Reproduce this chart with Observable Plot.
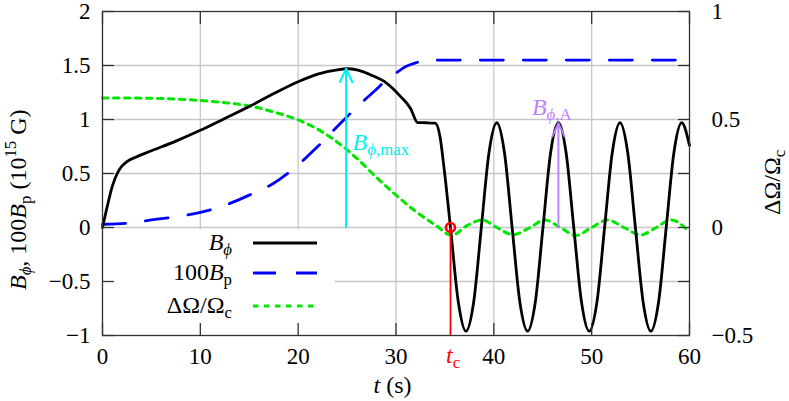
<!DOCTYPE html>
<html><head><meta charset="utf-8">
<script src="https://cdn.jsdelivr.net/npm/d3@7"></script>
<script src="https://cdn.jsdelivr.net/npm/@observablehq/plot@0.6"></script>
<style>
body{margin:0;background:#fff;}
#chart{width:789px;height:401px;}
#chart svg, #chart svg text, #chart svg tspan{font-family:"Liberation Serif", serif !important;}
</style></head><body><div id="chart"></div>
<script>
// ---------- data ----------
const phiT = [0, 0.5, 1, 1.5, 2, 2.5, 3.5, 5, 7.5, 10, 12.5, 15, 17.5, 20, 22, 24, 25, 26, 27.5, 29, 30.5, 31.5, 32.2, 33, 34.0,
  34.5, 34.9, 35.57, 36.37, 37.15, 37.94, 38.72, 39.5, 40.3, 41.09, 41.87, 42.66, 43.45, 44.24, 45.02, 45.8, 46.6,
  47.39, 48.17, 48.96, 49.75, 50.54, 51.32, 52.1, 52.9, 53.69, 54.47, 55.26, 56.05, 56.84, 57.62, 58.4, 59.2, 60];
const phiV = [0, 0.2, 0.38, 0.5, 0.57, 0.61, 0.655, 0.71, 0.80, 0.90, 1.01, 1.12, 1.24, 1.35, 1.42, 1.46, 1.47, 1.46, 1.41, 1.34, 1.21, 1.1, 0.972, 0.97, 0.966,
  0.84, 0.56, 0, -0.69, -0.96, -0.69, 0, 0.69, 0.97, 0.69, 0, -0.69, -0.96, -0.69, 0, 0.69, 0.97,
  0.69, 0, -0.69, -0.96, -0.69, 0, 0.69, 0.97, 0.69, 0, -0.69, -0.96, -0.69, 0, 0.69, 0.97, 0.76];

const bpT = [0, 2.5, 5, 7.5, 10, 12.5, 15, 17.5, 20, 22, 24, 26, 28, 29, 30, 31, 32, 33, 35, 40, 50, 60];
const bpV = [0.03, 0.04, 0.07, 0.10, 0.14, 0.205, 0.30, 0.41, 0.58, 0.75, 0.935, 1.115, 1.28, 1.365, 1.43, 1.49, 1.525, 1.545, 1.55, 1.55, 1.55, 1.55];

const omT = [0, 5, 10, 12.5, 15, 17.5, 20, 22, 24, 26, 28, 30, 32, 34, 35.7, 37.3, 38.8, 40.3, 42, 43.7, 45.2, 46.8, 48.4, 50, 51.6, 53.3, 55, 56.6, 58.1, 60];
const omV = [0.600, 0.598, 0.588, 0.578, 0.563, 0.535, 0.498, 0.455, 0.395, 0.32, 0.232, 0.15, 0.075, 0.012, -0.036, 0.01, 0.035, 0.0, -0.033, 0.0, 0.035, 0.0, -0.037, 0.0, 0.035, 0.0, -0.034, 0.0, 0.035, -0.022];

const xTicks = [0, 10, 20, 30, 40, 50, 60];
const xTickLabels = ["0", "10", "20", "30", "40", "50", "60"];
const yTicks = [-1, -0.5, 0, 0.5, 1, 1.5, 2];
const yTickLabels = ["\u22121", "\u22120.5", "0", "0.5", "1", "1.5", "2"];
const y2Ticks = [-0.5, 0, 0.5, 1];
const y2TickLabels = ["\u22120.5", "0", "0.5", "1"];

const tC = 35.57;              // critical time
const tMax = 24.9, bMax = 1.47; // B_phi,max
const tA = 46.6, bA = 0.965;    // B_phi,A

// ---------- layout ----------
const W = 789, H = 401;
const FONT = '"Liberation Serif", serif';
const FS = 23;   // tick labels
const LS = 24;   // titles, key, annotations
const yDom = [-1, 2], y2Dom = [-0.5, 1];
const toLeft = r => yDom[0] + (r - y2Dom[0]) * (yDom[1] - yDom[0]) / (y2Dom[1] - y2Dom[0]);

const phi = phiT.map((t, i) => ({t, v: phiV[i]}));
const bp = bpT.map((t, i) => ({t, v: bpV[i]}));
const om = omT.map((t, i) => ({t, r: omV[i]}));
const xLab = new Map(xTicks.map((d, i) => [d, xTickLabels[i]]));
const yLab = new Map(yTicks.map((d, i) => [d, yTickLabels[i]]));
const y2Lab = new Map(y2Ticks.map((d, i) => [toLeft(d), y2TickLabels[i]]));

const grid = {stroke: "#c8c8c8", strokeOpacity: 1, strokeWidth: 1.3};
const tick = {stroke: "#333", strokeWidth: 1.3, fill: "none", label: null, tickSize: 12};

const plot = Plot.plot({
  width: W, height: H,
  marginTop: 11, marginRight: 100, marginBottom: 66, marginLeft: 102,
  x: {domain: [0, 60]},
  y: {domain: yDom},
  style: {fontFamily: FONT, fontSize: FS + "px", color: "#000", background: "#fff", overflow: "visible"},
  marks: [
    Plot.gridX(xTicks.slice(1, -1), grid),
    Plot.gridY(yTicks.slice(1, -1), grid),
    // opaque key box
    Plot.frame({fill: "white", stroke: "none", insetTop: 218, insetRight: 355, insetLeft: 1, insetBottom: 1}),
    Plot.line(bp, {x: "t", y: "v", stroke: "#0000ff", strokeWidth: 2.8, strokeDasharray: "23,20", curve: "monotone-x"}),
    Plot.line(om, {x: "t", y: d => toLeft(d.r), stroke: "#00e600", strokeWidth: 3, strokeDasharray: "5.5,5.5", curve: "monotone-x"}),
    Plot.line(phi, {x: "t", y: "v", stroke: "black", strokeWidth: 2.8, curve: "monotone-x"}),
    Plot.arrow([{t: tMax, v0: 0, v1: bMax}], {x1: "t", x2: "t", y1: "v0", y2: "v1", stroke: "#00f0f0", strokeWidth: 2, headLength: 11, headAngle: 50}),
    Plot.arrow([{t: tA, v0: 0, v1: bA}], {x1: "t", x2: "t", y1: "v0", y2: "v1", stroke: "#c080ff", strokeWidth: 2, headLength: 11, headAngle: 50}),
    Plot.ruleX([tC], {y1: yDom[0], y2: 0, stroke: "red", strokeWidth: 1.8}),
    Plot.dot([{t: tC, v: 0}], {x: "t", y: "v", r: 4.5, stroke: "red", strokeWidth: 2.6, fill: "none"}),
    // tick marks (inward, mirrored)
    Plot.axisX(xTicks, {anchor: "bottom", dy: -12, ...tick}),
    Plot.axisX(xTicks, {anchor: "top", dy: 12, ...tick}),
    Plot.axisY(yTicks, {anchor: "left", dx: 12, ...tick}),
    Plot.axisY(yTicks, {anchor: "right", dx: -12, ...tick}),
    // tick labels
    Plot.axisX(xTicks, {anchor: "bottom", tickSize: 0, tickPadding: 12, tickFormat: d => xLab.get(d), label: null, fontSize: FS}),
    Plot.axisY(yTicks, {anchor: "left", tickSize: 0, tickPadding: 12, tickFormat: d => yLab.get(d), label: null, fontSize: FS}),
    Plot.axisY(y2Ticks.map(toLeft), {anchor: "right", tickSize: 0, tickPadding: 22, tickFormat: d => y2Lab.get(d), label: null, fontSize: FS}),
    Plot.frame({stroke: "#333", strokeWidth: 1.3})
  ]
});
document.getElementById("chart").append(plot);

// ---------- math-style labels ----------
const xs = plot.scale("x"), ys = plot.scale("y");
const X = v => xs.apply(v), Y = v => ys.apply(v);
const svg = d3.select(plot);
const layer = svg.append("g").attr("font-family", FONT).attr("font-size", LS).attr("text-anchor", "start");

function rich(parts, attrs, fs = LS) {
  const t = layer.append("text");
  Object.entries(attrs).forEach(([k, v]) => t.attr(k, v));
  let cur = 0;
  parts.forEach(p => {
    const s = t.append("tspan").text(p.t);
    if (p.i) s.attr("font-style", "italic");
    s.attr("font-size", (p.sub || p.sup) ? 0.7 * fs : fs);
    const target = p.sub ? 0.2 * fs : p.sup ? -0.4 * fs : 0;
    if (target !== cur) { s.attr("dy", target - cur); cur = target; }
  });
  return t;
}

const fLeft = X(0), fRight = X(60), fTop = Y(yDom[1]), fBottom = Y(yDom[0]);

// axis titles
rich([{t: "t", i: 1}, {t: " (s)"}], {x: (fLeft + fRight) / 2 - 22, y: H - 8, "text-anchor": "start"});
rich([{t: "B", i: 1}, {t: "\u03d5", i: 1, sub: 1}, {t: ", 100"}, {t: "B", i: 1}, {t: "p", sub: 1}, {t: " (10"}, {t: "15", sup: 1}, {t: " G)"}],
  {transform: `translate(26,${fBottom - 45}) rotate(-90)`, "text-anchor": "start"});
rich([{t: "\u0394\u03a9/\u03a9"}, {t: "c", sub: 1}],
  {transform: `translate(780,${fBottom - 120}) rotate(-90)`, "text-anchor": "start"});

// t_c tick label
rich([{t: "t", i: 1}, {t: "c", sub: 1}], {x: X(tC) - 4, y: fBottom + 28, "text-anchor": "start", fill: "red"});

// annotations
rich([{t: "B", i: 1}, {t: "\u03d5", i: 1, sub: 1}, {t: ",max", sub: 1}], {x: X(tMax) + 7, y: Y(0.713), fill: "#00f0f0"});
rich([{t: "B", i: 1}, {t: "\u03d5", i: 1, sub: 1}, {t: ",A", sub: 1}], {x: X(tA) - 26, y: Y(1.037), fill: "#c080ff"});

// key
const keyRows = [
  {parts: [{t: "B", i: 1}, {t: "\u03d5", i: 1, sub: 1}], stroke: "black", dash: null, yOff: -92},
  {parts: [{t: "100"}, {t: "B", i: 1}, {t: "p", sub: 1}], stroke: "#0000ff", dash: "23,20", yOff: -62},
  {parts: [{t: "\u0394\u03a9/\u03a9"}, {t: "c", sub: 1}], stroke: "#00e600", dash: "5.5,5.5", yOff: -29}
];
keyRows.forEach(k => {
  const cy = fBottom + k.yOff;
  rich(k.parts, {x: fLeft + 130, y: cy + 7, "text-anchor": "end"});
  const ln = layer.append("line").attr("x1", fLeft + 151).attr("x2", fLeft + 215).attr("y1", cy).attr("y2", cy)
    .attr("stroke", k.stroke).attr("stroke-width", k.stroke === "#00e600" ? 3 : 2.8);
  if (k.dash) ln.attr("stroke-dasharray", k.dash);
});
</script>
</body></html>
